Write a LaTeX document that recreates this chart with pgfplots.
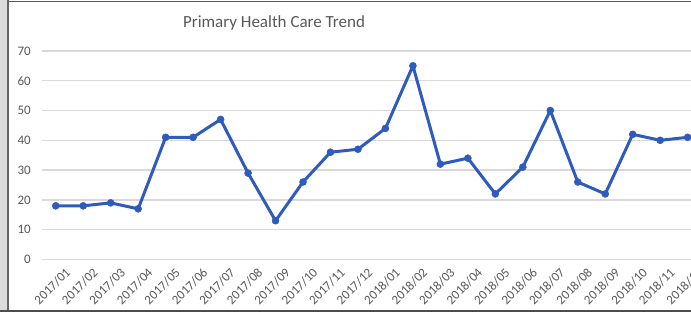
\documentclass[border=0pt]{standalone}
\usepackage{pgfplots}
\pgfplotsset{compat=1.18}
\usepackage{fontspec}
\setmainfont{Carlito}
\definecolor{lineblue}{RGB}{47,91,189}
\definecolor{txt}{RGB}{89,89,89}
\definecolor{gridc}{RGB}{217,217,217}
\begin{document}
\begin{tikzpicture}[x=1pt,y=1pt]
\useasboundingbox (0,0) rectangle (691,312);
\clip (0,0) rectangle (691,312);
\fill[white] (0,0) rectangle (691,312);
\fill[gray!28] (0,0) rectangle (7.5,312);
\draw[gray!80!black, line width=1.2pt] (8,0) -- (8,312);
\draw[gray!70!black, line width=1.5pt] (8,310.5) -- (691,310.5);
\draw[black!70, line width=2pt] (0,1) -- (691,1);
\node[anchor=base, text=txt, font=\fontsize{17}{17}\selectfont] at (274,284.7) {Primary Health Care Trend};
\begin{axis}[
  at={(42pt,52.5pt)}, anchor=south west,
  scale only axis, width=659.4pt, height=208.6pt,
  xmin=-0.5, xmax=23.5, ymin=0, ymax=70,
  axis line style={draw=none},
  major tick length=0pt,
  ytick={0,10,...,70},
  ymajorgrids,
  grid style={gridc, line width=1.5pt},
  xtick={0,...,23},
  xticklabels={2017/01,2017/02,2017/03,2017/04,2017/05,2017/06,2017/07,2017/08,2017/09,2017/10,2017/11,2017/12,2018/01,2018/02,2018/03,2018/04,2018/05,2018/06,2018/07,2018/08,2018/09,2018/10,2018/11,2018/12},
  ticklabel style={font=\fontsize{13}{13}\selectfont, text=txt},
  /pgf/number format/assume math mode=true,
  yticklabel style={anchor=east, inner sep=0pt, xshift=-11pt},
  xticklabel style={rotate=45, anchor=north east, inner sep=0pt, yshift=-11.5pt, xshift=1pt},
  clip=false,
]
\addplot[lineblue, line width=3pt, line join=round, mark=*, mark size=3.5pt, mark options={fill=lineblue, draw=lineblue, line width=0.5pt}] coordinates {
(0,18) (1,18) (2,19) (3,17) (4,41) (5,41) (6,47) (7,29) (8,13) (9,26) (10,36) (11,37)
(12,44) (13,65) (14,32) (15,34) (16,22) (17,31) (18,50) (19,26) (20,22) (21,42) (22,40) (23,41)
};
\end{axis}
\end{tikzpicture}
\end{document}
